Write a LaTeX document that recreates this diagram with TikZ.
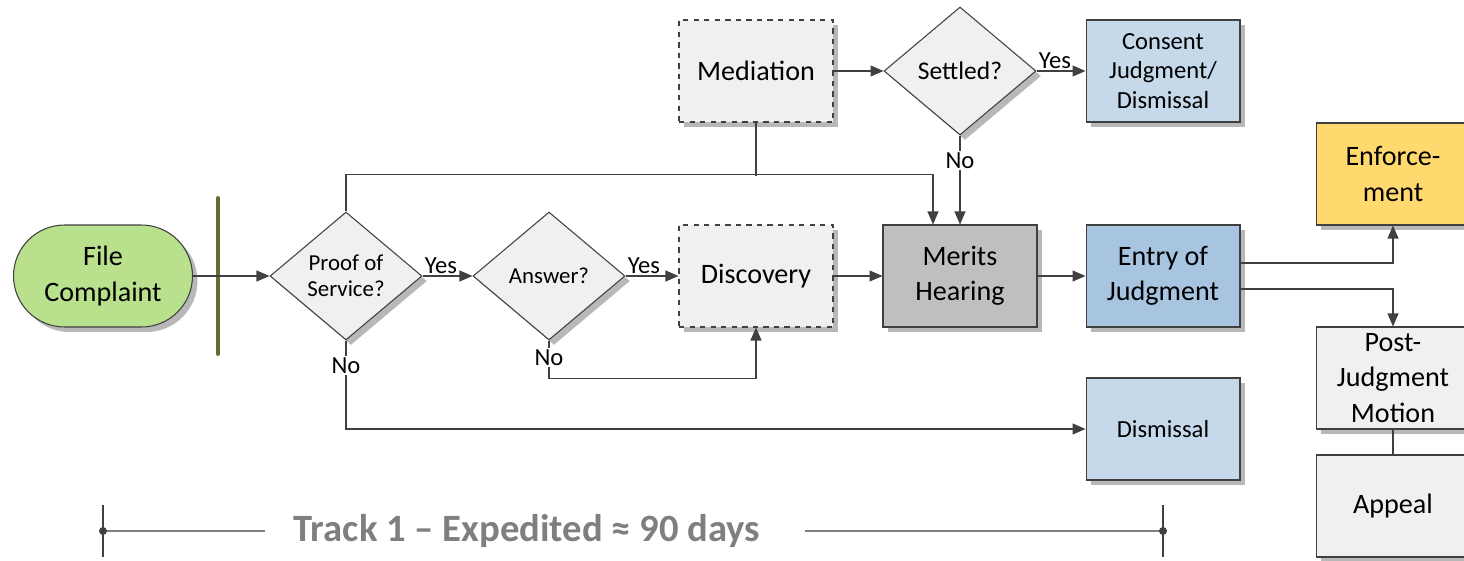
\documentclass[tikz,border=0pt]{standalone}
\usepackage{fontspec}
\setmainfont{Carlito}
\usetikzlibrary{shapes.geometric,shapes.misc,shadows,arrows.meta}

\definecolor{linegray}{RGB}{64,64,64}
\definecolor{boxgray}{RGB}{240,240,240}
\definecolor{meritgray}{RGB}{191,191,191}
\definecolor{startgreen}{RGB}{185,224,140}
\definecolor{barolive}{RGB}{95,110,50}
\definecolor{entryblue}{RGB}{167,196,224}
\definecolor{paleblue}{RGB}{197,217,235}
\definecolor{enfgold}{RGB}{255,217,110}
\definecolor{trackgray}{RGB}{127,127,127}

\begin{document}
\begin{tikzpicture}[x=0.02cm,y=-0.02cm,
    shade/.style={drop shadow={shadow xshift=0.1cm,shadow yshift=-0.1cm,fill=black!28,opacity=1}},
    box/.style={shade,draw=linegray,line width=0.6pt,fill=boxgray,minimum width=3.08cm,minimum height=2.04cm,inner sep=0pt,align=center,font=\fontsize{16pt}{20pt}\selectfont},
    dashbox/.style={box,dashed},
    smallbox/.style={box,font=\fontsize{14pt}{17pt}\selectfont},
    decision/.style={shade,diamond,draw=linegray,line width=0.6pt,fill=boxgray,minimum width=3.04cm,minimum height=2.56cm,inner sep=0pt,aspect=1.19,align=center,font=\fontsize{13pt}{15pt}\selectfont},
    arr/.style={draw=linegray,line width=0.6pt,-{Triangle[length=0.26cm,width=0.22cm]}},
    link/.style={draw=linegray,line width=0.6pt},
    lbl/.style={font=\fontsize{14pt}{14pt}\selectfont,inner sep=1pt}]
  \useasboundingbox (0,0) rectangle (1464,561);
  % start
  \node [shade,rounded rectangle,draw=linegray,line width=0.6pt,fill=startgreen,minimum width=3.58cm,minimum height=2.04cm,inner sep=0pt,align=center,font=\fontsize{16pt}{20pt}\selectfont] (file) at (103,276) {File\\Complaint};
  % green bar
  \draw [line width=2.2pt,barolive,line cap=round] (218,198) -- (218,354);
  % decisions
  \node [decision] (proof) at (346,276) {Proof of\\Service?};
  \node [decision] (answer) at (549,276) {Answer?};
  \node [decision,font=\fontsize{14.5pt}{17pt}\selectfont] (settled) at (960,71) {Settled?};
  % boxes
  \node [dashbox] (mediation) at (756,71) {Mediation};
  \node [dashbox] (discovery) at (756,276) {Discovery};
  \node [box,fill=meritgray] (merits) at (960,276) {Merits\\Hearing};
  \node [box,fill=entryblue] (entry) at (1163,276) {Entry of\\Judgment};
  \node [smallbox,fill=paleblue] (consent) at (1163,71) {Consent\\Judgment/\\Dismissal};
  \node [smallbox,fill=paleblue] (dismissal) at (1163,429) {Dismissal};
  \node [box,fill=enfgold] (enforce) at (1393,174) {Enforce-\\ment};
  \node [box] (post) at (1393,378) {Post-\\Judgment\\Motion};
  \node [box] (appeal) at (1393,506) {Appeal};
  % main line
  \draw [arr] (file.east) -- (proof.west);
  \draw [arr] (proof.east) -- node [lbl,pos=0,anchor=south west] {Yes} (answer.west);
  \draw [arr] (answer.east) -- node [lbl,pos=0,anchor=south west] {Yes} (discovery.west);
  \draw [arr] (discovery.east) -- (merits.west);
  \draw [arr] (merits.east) -- (entry.west);
  % no branches
  \draw [arr] (proof.south) |- node [lbl,pos=0.14,fill=white] {No} (dismissal.west);
  \draw [arr] (answer.south) -- node [lbl,pos=0.45,fill=white] {No} ++(0,38) -| (discovery.south);
  % mediation
  \draw [arr] (proof.north) -- ++(0,-37) -| ([xshift=-0.54cm]merits.north);
  \draw [link] (mediation.south) -- ++(0,53);
  \draw [arr] (mediation.east) -- (settled.west);
  \draw [arr] (settled.east) -- node [lbl,pos=0,anchor=south west] {Yes} (consent.west);
  \draw [arr] (settled.south) -- node [lbl,pos=0.28,fill=white] {No} (merits.north);
  % after judgment
  \draw [arr] ([yshift=0.26cm]entry.east) -| (enforce.south);
  \draw [arr] ([yshift=-0.26cm]entry.east) -| (post.north);
  \draw [link] (post.south) -- (appeal.north);
  % track line
  \node [font=\fontsize{22pt}{22pt}\selectfont\bfseries,text=trackgray] (track) at (527,531) {Track 1 – Expedited ≈ 90 days};
  \coordinate (tstart) at (103,531);
  \coordinate (tend) at (1163,531);
  \draw [line width=0.8pt,trackgray] (tstart) -- (265,531);
  \draw [line width=0.8pt,trackgray] (805,531) -- (tend);
  \draw [link] (103,505) -- (103,557);
  \draw [link] (1163,505) -- (1163,557);
  \fill [linegray] (tstart) circle (4);
  \fill [linegray] (tend) circle (4);
\end{tikzpicture}
\end{document}
